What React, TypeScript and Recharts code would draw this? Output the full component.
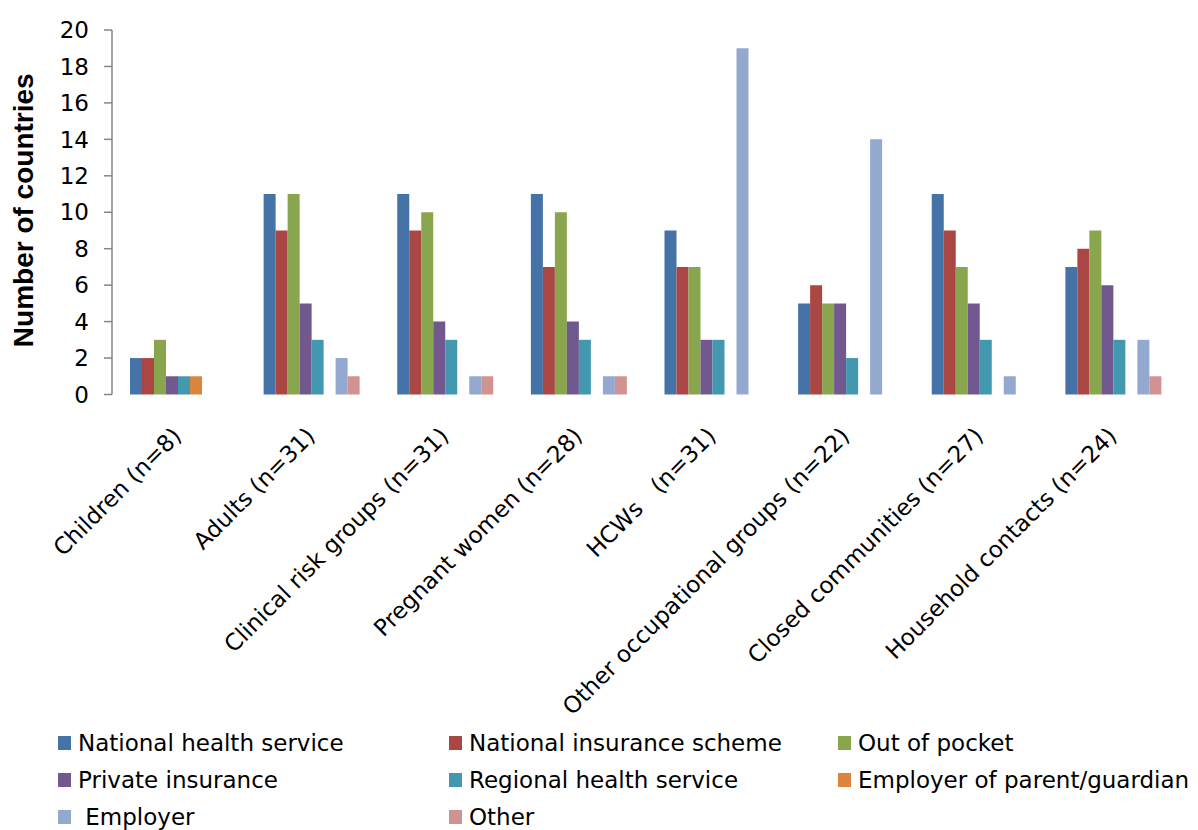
import React from 'react';
import { BarChart, Bar, XAxis, YAxis, Label } from 'recharts';

const categories = [
  'Children (n=8)',
  'Adults (n=31)',
  'Clinical risk groups (n=31)',
  'Pregnant women (n=28)',
  'HCWs\u00A0\u00A0\u00A0(n=31)',
  'Other occupational groups (n=22)',
  'Closed communities (n=27)',
  'Household contacts (n=24)',
];

const nationalHealthService = [2, 11, 11, 11, 9, 5, 11, 7];
const nationalInsuranceScheme = [2, 9, 9, 7, 7, 6, 9, 8];
const outOfPocket = [3, 11, 10, 10, 7, 5, 7, 9];
const privateInsurance = [1, 5, 4, 4, 3, 5, 5, 6];
const regionalHealthService = [1, 3, 3, 3, 3, 2, 3, 3];
const employerOfParent = [1, 0, 0, 0, 0, 0, 0, 0];
const employer = [0, 2, 1, 1, 19, 14, 1, 3];
const other = [0, 1, 1, 1, 0, 0, 0, 1];

const yTicks = [0, 2, 4, 6, 8, 10, 12, 14, 16, 18, 20];

const series = [
  { key: 'nhs', name: 'National health service', values: nationalHealthService, color: '#4572A7' },
  { key: 'nis', name: 'National insurance scheme', values: nationalInsuranceScheme, color: '#AA4643' },
  { key: 'oop', name: 'Out of pocket', values: outOfPocket, color: '#89A54E' },
  { key: 'pi', name: 'Private insurance', values: privateInsurance, color: '#71588F' },
  { key: 'rhs', name: 'Regional health service', values: regionalHealthService, color: '#4198AF' },
  { key: 'epg', name: 'Employer of parent/guardian', values: employerOfParent, color: '#DB843D' },
  { key: 'emp', name: ' Employer', values: employer, color: '#93A9CF' },
  { key: 'oth', name: 'Other', values: other, color: '#D19392' },
];

const data = categories.map((c, i) => {
  const row: Record<string, any> = { category: c };
  series.forEach((s) => {
    row[s.key] = s.values[i];
  });
  return row;
});

const FONT = 'DejaVu Sans';

const XTick = (props: any) => {
  const { x, y, payload } = props;
  const ax = x + 4;
  const ay = y + 43;
  return (
    <text
      x={ax}
      y={ay}
      transform={`rotate(-45, ${ax}, ${ay})`}
      textAnchor="end"
      fontSize={23}
      fontFamily={FONT}
      fill="#000"
      style={{ whiteSpace: 'pre' }}
    >
      {payload.value}
    </text>
  );
};

const YLabel = (props: any) => {
  const vb = props.viewBox || { x: 0, y: 30, width: 112, height: 364.5 };
  const cx = 23;
  const cy = vb.y + vb.height / 2 - 2;
  return (
    <text
      x={cx}
      y={cy}
      transform={`rotate(-90, ${cx}, ${cy})`}
      textAnchor="middle"
      dominantBaseline="central"
      fontSize={28}
      fontWeight="bold"
      fontFamily="Liberation Sans"
      fill="#000"
    >
      Number of countries
    </text>
  );
};

const legendCols = [58, 449, 838];
const legendRows = [743, 780, 817];

export default function App() {
  return (
    <div style={{ position: 'absolute', left: 0, top: 0, width: 1198, height: 830, background: '#fff' }}>
      <BarChart
        width={1198}
        height={830}
        data={data}
        margin={{ top: 30, right: 17, bottom: 0, left: 0 }}
        barCategoryGap={18}
        barGap={0}
      >
        <XAxis
          dataKey="category"
          axisLine={false}
          tickLine={false}
          tickSize={0}
          tickMargin={0}
          height={435.5}
          interval={0}
          tick={<XTick />}
        />
        <YAxis
          width={112}
          domain={[0, 20]}
          ticks={yTicks}
          interval={0}
          axisLine={{ stroke: '#868686', strokeWidth: 1.5 }}
          tickLine={{ stroke: '#868686', strokeWidth: 1.5 }}
          tickSize={8}
          tickMargin={15}
          tick={{ fontSize: 23, fontFamily: FONT, fill: '#000' }}
        >
          <Label content={<YLabel />} />
        </YAxis>
        {series.map((s) => (
          <Bar key={s.key} dataKey={s.key} name={s.name} fill={s.color} isAnimationActive={false} />
        ))}
      </BarChart>
      {series.map((s, i) => {
        const col = i % 3;
        const row = Math.floor(i / 3);
        return (
          <div
            key={s.key}
            style={{
              position: 'absolute',
              left: legendCols[col],
              top: legendRows[row] - 15,
              height: 30,
              display: 'flex',
              alignItems: 'center',
              fontFamily: FONT,
              fontSize: 23,
              color: '#000',
              whiteSpace: 'pre',
            }}
          >
            <span style={{ display: 'inline-block', width: 13, height: 14, background: s.color, marginRight: 7 }} />
            <span>{s.name}</span>
          </div>
        );
      })}
    </div>
  );
}
